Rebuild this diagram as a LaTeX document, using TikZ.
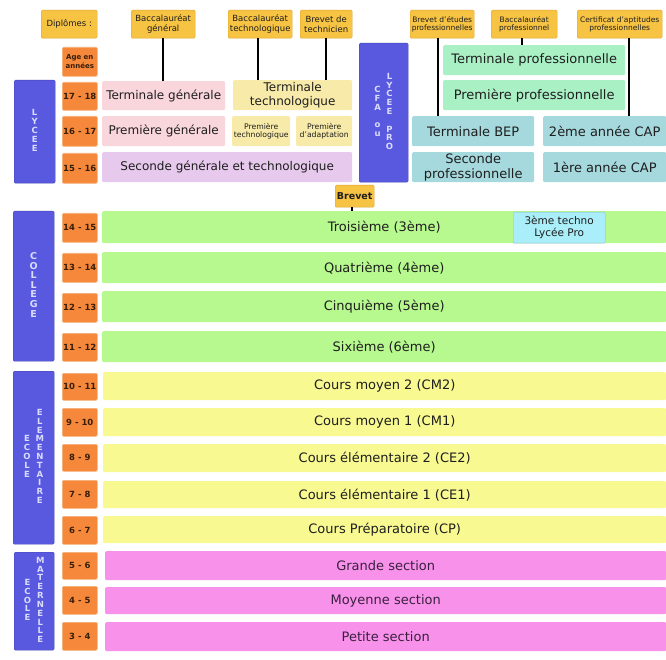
\documentclass[tikz,border=0pt]{standalone}
\usepackage{fontspec}
\setmainfont{DejaVu Sans}
\definecolor{txt}{HTML}{1E1E1E}
\definecolor{txtm}{HTML}{3A2040}
\definecolor{txta}{HTML}{3A1E08}
\definecolor{gold}{HTML}{F6C343}
\definecolor{golddk}{HTML}{DDA530}
\definecolor{orng}{HTML}{F5883B}
\definecolor{orngbd}{HTML}{F6B27A}
\definecolor{sideblue}{HTML}{5959E0}
\definecolor{sidetxt}{HTML}{DADCFF}
\definecolor{pinkg}{HTML}{F9D6DC}
\definecolor{yellowt}{HTML}{F8EBAA}
\definecolor{lav}{HTML}{E6C9EC}
\definecolor{greenp}{HTML}{A9F0C5}
\definecolor{tealb}{HTML}{A6D9DE}
\definecolor{greenc}{HTML}{B7F98F}
\definecolor{yellowe}{HTML}{F9F991}
\definecolor{pinkm}{HTML}{F891E9}
\definecolor{cyanb}{HTML}{A9EEF9}
\newcommand\lstack[1]{\begin{tabular}[c]{@{}c@{}}#1\end{tabular}}
\begin{document}
\begin{tikzpicture}[x=1pt,y=-1pt,
  sz/.style 2 args={minimum width=#1pt, minimum height=#2pt},
  cell/.style={inner sep=0pt, anchor=north west, align=center, text=txt, rounded corners=1.2pt},
  dipl/.style={cell, fill=gold, draw=golddk, line width=0.4pt, font=\fontsize{8.5}{9.5}\selectfont},
  dipls/.style={dipl, font=\fontsize{7.5}{8.5}\selectfont},
  age/.style={cell, fill=orng, draw=orngbd, line width=0.6pt, text=txta, font=\fontsize{8.5}{10}\selectfont\bfseries},
  side/.style={cell, fill=sideblue, draw=sideblue!80!black, line width=0.4pt, text=sidetxt, font=\fontsize{8.5}{8.7}\selectfont\bfseries},
  lycbox/.style={cell, font=\fontsize{12}{14}\selectfont},
  probox/.style={cell, font=\fontsize{13}{14.5}\selectfont},
  smallbox/.style={cell, fill=yellowt, font=\fontsize{7.7}{8.6}\selectfont},
  bar/.style={cell, font=\fontsize{13}{15}\selectfont},
  conn/.style={draw=black, line width=1.6pt}
]
\useasboundingbox[fill=white] (0,0) rectangle (666,660);

% diplomas
\node[dipl, sz={56}{28}] (dip) at (41,10) {Diplômes :};
\node[dipl, sz={64}{28}] (bacg) at (131,10) {Baccalauréat\\général};
\node[dipl, sz={64}{28}] (bact) at (228,10) {Baccalauréat\\technologique};
\node[dipl, sz={52}{28}] (btech) at (300,10) {Brevet de\\technicien};
\node[dipls, sz={64}{28}] (bep) at (410,10) {Brevet d'études\\professionnelles};
\node[dipls, sz={66}{28}] (bacp) at (491,10) {Baccalauréat\\professionnel};
\node[dipls, sz={85}{28}] (capd) at (577,10) {Certificat d'aptitudes\\professionnelles};
\node[dipl, sz={39}{22}, font=\fontsize{9.5}{10}\selectfont\bfseries] (brev) at (335,185) {Brevet};

% age header
\node[age, sz={35}{29}, font=\fontsize{7}{9}\selectfont\bfseries] (agehd) at (62,47) {Age en\\années};

% side bars
\node[side, sz={41}{103}] (lyc) at (14,80) {\lstack{L\\Y\\C\\E\\E}};
\node[side, sz={49}{139}] (cfa) at (359,43) {\lstack{C\\F\\A\\{}\\o\\u}\hspace{5pt}\lstack{L\\Y\\C\\E\\E\\{}\\P\\R\\O}};
\node[side, sz={41}{150}, font=\fontsize{9.5}{8.7}\selectfont\bfseries] (col) at (13,211) {\lstack{C\\O\\L\\L\\E\\G\\E}};
\node[side, sz={41}{173}] (elem) at (13,371) {\lstack{E\\C\\O\\L\\E}\hspace{5pt}\lstack{E\\L\\E\\M\\E\\N\\T\\A\\I\\R\\E}};
\node[side, sz={40}{98}] (mat) at (14,552) {\lstack{E\\C\\O\\L\\E}\hspace{5pt}\lstack{M\\A\\T\\E\\R\\N\\E\\L\\L\\E}};

% ages
\node[age, sz={35}{28}] (a17) at (62,82) {17 - 18};
\node[age, sz={35}{30}] (a16) at (62,116) {16 - 17};
\node[age, sz={35}{30}] (a15) at (62,153) {15 - 16};
\node[age, sz={35}{29}] (a14) at (62,213) {14 - 15};
\node[age, sz={35}{29}] (a13) at (62,253) {13 - 14};
\node[age, sz={35}{29}] (a12) at (62,293) {12 - 13};
\node[age, sz={35}{28}] (a11) at (62,333) {11 - 12};
\node[age, sz={35}{27}] (a10) at (62,373) {10 - 11};
\node[age, sz={35}{28}] (a9) at (62,408) {9 - 10};
\node[age, sz={35}{27}] (a8) at (62,444) {8 - 9};
\node[age, sz={35}{28}] (a7) at (62,480) {7 - 8};
\node[age, sz={35}{28}] (a6) at (62,516) {6 - 7};
\node[age, sz={35}{27}] (a5) at (62,552) {5 - 6};
\node[age, sz={35}{28}] (a4) at (62,586) {4 - 5};
\node[age, sz={35}{28}] (a3) at (62,622) {3 - 4};

% lycee general & techno
\node[lycbox, fill=pinkg, sz={123}{29}] (tg) at (102,81) {Terminale générale};
\node[lycbox, fill=yellowt, sz={119}{30}] (tt) at (233,80) {Terminale\\technologique};
\node[lycbox, fill=pinkg, sz={123}{30}] (pg) at (102,116) {Première générale};
\node[smallbox, sz={58}{30}] (pt) at (232,116) {Première\\technologique};
\node[smallbox, sz={56}{30}] (pa) at (296,116) {Première\\d'adaptation};
\node[lycbox, fill=lav, sz={250}{30}] (sg) at (102,152) {Seconde générale et technologique};

% lycee pro
\node[probox, fill=greenp, sz={182}{30}] (tp) at (443,45) {Terminale professionnelle};
\node[probox, fill=greenp, sz={182}{30}] (pp) at (443,80) {Première professionnelle};
\node[probox, fill=tealb, sz={122}{30}] (tbep) at (412,116) {Terminale BEP};
\node[probox, fill=tealb, sz={123}{30}] (cap2) at (543,116) {2ème année CAP};
\node[probox, fill=tealb, sz={122}{30}] (sp) at (412,152) {Seconde\\professionnelle};
\node[probox, fill=tealb, sz={123}{30}] (cap1) at (543,152) {1ère année CAP};

% college
\node[bar, fill=greenc, sz={564}{32}] (c3) at (102,211) {Troisième (3ème)};
\node[bar, fill=greenc, sz={564}{31}] (c4) at (102,252) {Quatrième (4ème)};
\node[bar, fill=greenc, sz={564}{31}] (c5) at (102,291) {Cinquième (5ème)};
\node[bar, fill=greenc, sz={564}{31}] (c6) at (102,331) {Sixième (6ème)};
\node[cell, fill=cyanb, draw=cyanb!80!black, line width=0.3pt, sz={92}{31}, font=\fontsize{10.5}{12}\selectfont] (techno) at (513,212) {3ème techno\\Lycée Pro};

% elementaire
\node[bar, fill=yellowe, sz={563}{28}] (cm2) at (103,372) {Cours moyen 2 (CM2)};
\node[bar, fill=yellowe, sz={563}{28}] (cm1) at (103,408) {Cours moyen 1 (CM1)};
\node[bar, fill=yellowe, sz={563}{28}] (ce2) at (103,444) {Cours élémentaire 2 (CE2)};
\node[bar, fill=yellowe, sz={563}{27}] (ce1) at (103,481) {Cours élémentaire 1 (CE1)};
\node[bar, fill=yellowe, sz={563}{27}] (cp) at (103,516) {Cours Préparatoire (CP)};

% maternelle
\node[bar, fill=pinkm, text=txtm, sz={561}{29}] (gs) at (105,551) {Grande section};
\node[bar, fill=pinkm, text=txtm, sz={561}{27}] (ms) at (105,587) {Moyenne section};
\node[bar, fill=pinkm, text=txtm, sz={561}{29}] (ps) at (105,622) {Petite section};

% connectors
\draw[conn] (bacg.south) -- (bacg.south |- tg.north);
\draw[conn] ([xshift=-2pt]bact.south) -- ([xshift=-2pt]bact.south |- tt.north);
\draw[conn] (btech.south) -- (btech.south |- tt.north);
\draw[conn] ([xshift=-4pt]bep.south) -- ([xshift=-4pt]bep.south |- tbep.north);
\draw[conn] ([xshift=-2pt]bacp.south) -- ([xshift=-2pt]bacp.south |- tp.north);
\draw[conn] ([xshift=9.5pt]capd.south) -- ([xshift=9.5pt]capd.south |- cap2.north);
\draw[conn] ([xshift=-2.5pt]brev.south) -- ([xshift=-2.5pt]brev.south |- c3.north);
\end{tikzpicture}
\end{document}
